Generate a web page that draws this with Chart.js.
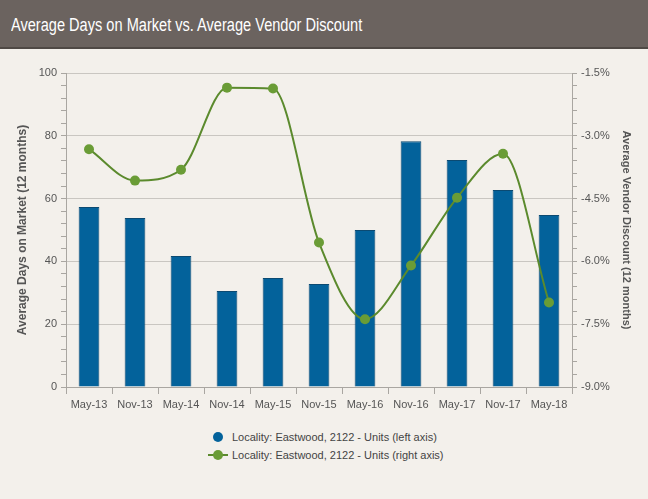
<!DOCTYPE html>
<html>
<head>
<meta charset="utf-8">
<script src="https://cdn.jsdelivr.net/npm/chart.js@4"></script>
<style>
  html, body { margin: 0; padding: 0; }
  body { width: 648px; height: 499px; background: #f3f0eb; font-family: "Liberation Sans", Arial, sans-serif; position: relative; overflow: hidden; }
  #header { position: absolute; left: 0; top: 0; width: 648px; height: 47px; background: #6b635f; border-bottom: 2px solid #4f4945; }
  #header h1 { margin: 0; position: absolute; left: 11px; top: 15px; font-size: 18px; font-weight: normal; color: #fff; white-space: nowrap; transform: scaleX(0.81); transform-origin: left center; }
  #wrap { position: absolute; left: 0; top: 48px; width: 648px; height: 380px; }
  #legend { position: absolute; left: 205px; top: 428px; font-size: 11px; color: #444; }
  .item { height: 18px; line-height: 18px; position: relative; padding-left: 27px; }
  .sym { position: absolute; left: 3px; top: 4px; width: 20px; height: 10px; }
</style>
</head>
<body>
<div id="header"><h1>Average Days on Market vs. Average Vendor Discount</h1></div>
<div id="wrap"><canvas id="chart"></canvas></div>
<div id="legend"></div>
<script>
const categories = ['May-13', 'Nov-13', 'May-14', 'Nov-14', 'May-15', 'Nov-15', 'May-16', 'Nov-16', 'May-17', 'Nov-17', 'May-18'];
const daysOnMarket = [57.3, 53.8, 41.7, 30.6, 34.7, 32.8, 50.0, 78.3, 72.3, 62.7, 54.8];
const vendorDiscount = [-3.32, -4.07, -3.81, -1.85, -1.87, -5.55, -7.38, -6.10, -4.48, -3.43, -6.98];
const seriesNames = ['Locality: Eastwood, 2122 - Units (left axis)', 'Locality: Eastwood, 2122 - Units (right axis)'];

const barColor = '#03629b';
const lineColor = '#5b8a2d';
const pointColor = '#6a9c36';
const axisColor = '#a9a6a1';
const gridColor = '#c9c6c1';
const textColor = '#555';

const ctx = document.getElementById('chart').getContext('2d');
new Chart(ctx, {
    data: {
        labels: categories,
        datasets: [{
            type: 'line',
            label: seriesNames[1],
            data: vendorDiscount,
            yAxisID: 'y1',
            borderColor: lineColor,
            borderWidth: 2,
            pointBackgroundColor: pointColor,
            pointBorderWidth: 0,
            pointRadius: 5,
            cubicInterpolationMode: 'monotone',
            order: 0
        }, {
            type: 'bar',
            label: seriesNames[0],
            data: daysOnMarket,
            yAxisID: 'y',
            backgroundColor: barColor,
            borderColor: '#0b4a72',
            borderWidth: 1,
            categoryPercentage: 0.9,
            barPercentage: 0.5,
            order: 1
        }]
    },
    options: {
        responsive: true,
        maintainAspectRatio: false,
        animation: false,
        layout: { padding: { top: 25, left: 0, right: 0, bottom: 0 } },
        plugins: { legend: { display: false }, tooltip: { enabled: false } },
        scales: {
            x: {
                grid: { display: true, drawOnChartArea: false, color: axisColor, tickLength: 7 },
                border: { color: axisColor },
                ticks: { color: textColor, font: { family: 'Liberation Sans', size: 11 }, maxRotation: 0, autoSkip: false, padding: 4 },
                afterFit: s => { s.height = 41; }
            },
            y: {
                position: 'left',
                min: 0, max: 100,
                ticks: {
                    stepSize: 4, autoSkip: false,
                    color: textColor, font: { family: 'Liberation Sans', size: 11 }, padding: 4,
                    callback: v => v % 20 === 0 ? v : ''
                },
                grid: {
                    tickLength: 5,
                    color: c => (c.tick && c.tick.value % 20 === 0 && c.tick.value !== 0) ? gridColor : 'transparent',
                    tickColor: axisColor
                },
                border: { color: axisColor },
                title: { display: true, text: 'Average Days on Market (12 months)', color: textColor, font: { family: 'Liberation Sans', size: 12, weight: 'bold' }, padding: { top: 15, bottom: 0 } },
                afterFit: s => { s.width = 66; }
            },
            y1: {
                position: 'right',
                min: -9, max: -1.5,
                afterBuildTicks: s => {
                    s.ticks = [];
                    for (let i = 0; i <= 25; i++) s.ticks.push({ value: -9 + i * 0.3 });
                },
                ticks: {
                    autoSkip: false,
                    color: textColor, font: { family: 'Liberation Sans', size: 11 }, padding: 4,
                    callback: (v, i) => i % 5 === 0 ? v.toFixed(1) + '%' : ''
                },
                grid: { drawOnChartArea: false, tickLength: 5, color: axisColor },
                border: { color: axisColor },
                title: { display: true, text: 'Average Vendor Discount (12 months)', color: textColor, font: { family: 'Liberation Sans', size: 11, weight: 'bold' }, padding: { top: 15, bottom: 0 } },
                afterFit: s => { s.width = 76; }
            }
        }
    }
});

// legend, stacked like the original
const legend = document.getElementById('legend');
seriesNames.forEach((name, i) => {
    const row = document.createElement('div');
    row.className = 'item';
    const sym = i === 0
        ? '<svg class="sym" viewBox="0 0 20 10"><circle cx="10" cy="5" r="5" fill="' + barColor + '"/></svg>'
        : '<svg class="sym" viewBox="0 0 20 10"><line x1="0" y1="5" x2="20" y2="5" stroke="' + lineColor + '" stroke-width="2"/><circle cx="10" cy="5" r="5" fill="' + pointColor + '"/></svg>';
    row.innerHTML = sym + '<span>' + name + '</span>';
    legend.appendChild(row);
});
</script>
</body>
</html>
